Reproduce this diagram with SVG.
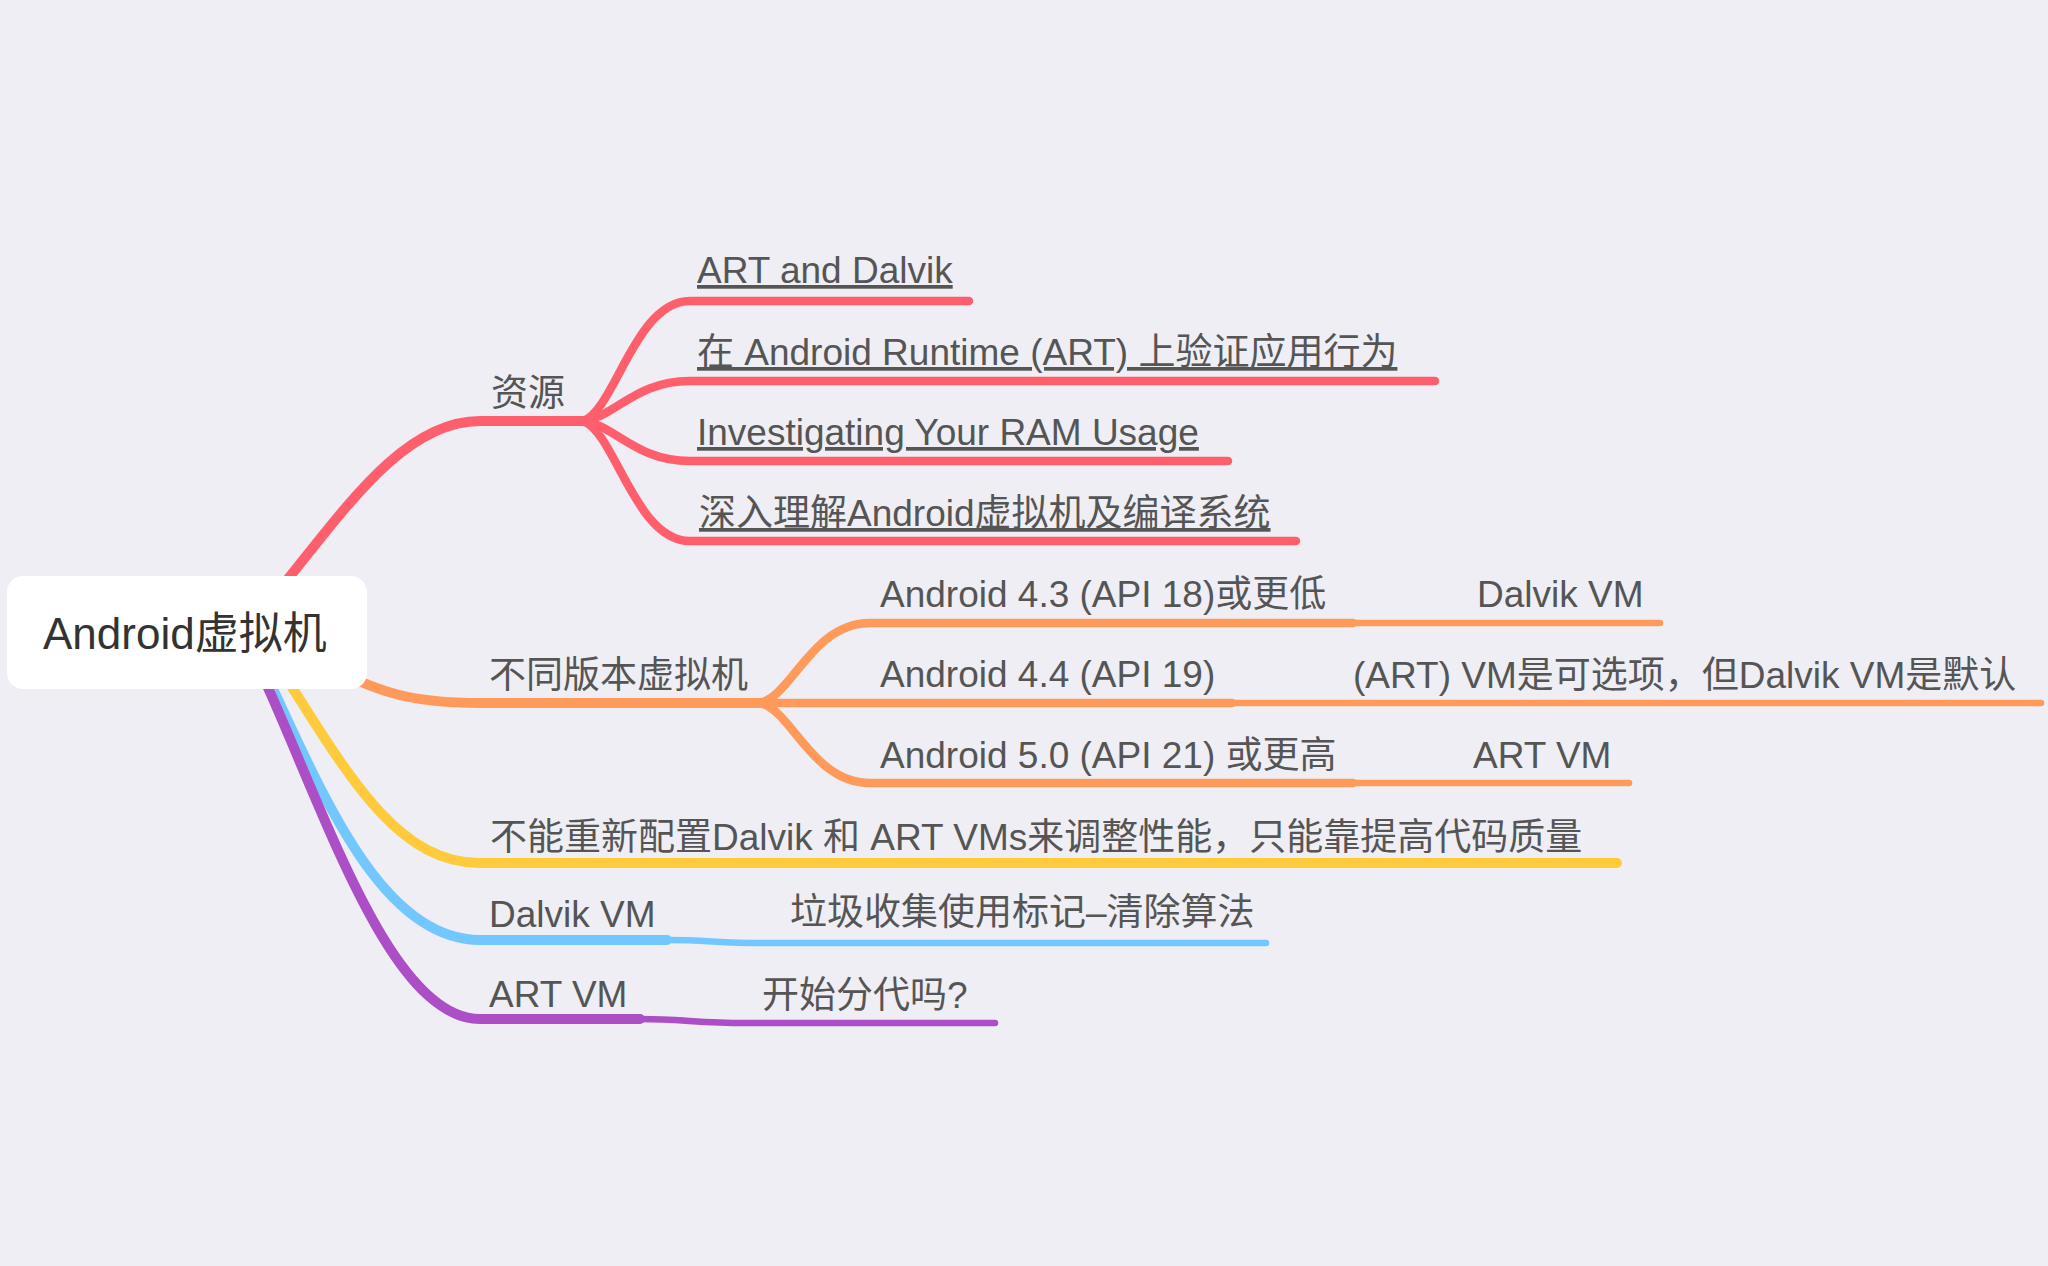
<svg xmlns="http://www.w3.org/2000/svg" width="2048" height="1266" viewBox="0 0 2048 1266">
<style>
.bg{fill:#EEEEF4}
.c{fill:none;stroke-linecap:round;stroke-linejoin:round}
.m{stroke-width:10}
.s{stroke-width:8.5}
.g{stroke-width:6.5}
.red{stroke:#FF5F6D}
.org{stroke:#FF9A5B}
.yel{stroke:#FFCB3D}
.blu{stroke:#73C7FF}
.pur{stroke:#AC4EC6}
.t{font-family:"Liberation Sans","Noto Sans CJK SC",sans-serif;font-size:37px;fill:#555555}
.u{text-decoration:underline}
.root{font-family:"Liberation Sans","Noto Sans CJK SC",sans-serif;font-size:44px;fill:#333333}
</style>
<rect class="bg" x="0" y="0" width="2048" height="1266"/>
<g id="connectors">
  <!-- main branches -->
  <path class="c m red" d="M270 601 C340 517 400 421 480 421 L583 421"/>
  <path class="c m org" d="M330 668 C380 692 410 703 480 703 L760 703"/>
  <path class="c m yel" d="M262 640 C340 760 390 863 480 863 L1617 863"/>
  <path class="c m blu" d="M245 630 C310 760 370 940 480 940 L667 940"/>
  <path class="c m pur" d="M240 630 C310 760 380 1019 480 1019 L640 1019"/>
  <!-- 资源 children -->
  <path class="c s red" d="M583 421 C615 410 635 301 690 301 L969 301"/>
  <path class="c s red" d="M583 421 C615 417 635 381 690 381 L1435 381"/>
  <path class="c s red" d="M583 421 C615 425 635 461 690 461 L1228 461"/>
  <path class="c s red" d="M583 421 C615 432 635 541 690 541 L1296 541"/>
  <!-- 不同版本虚拟机 children -->
  <path class="c s org" d="M760 703 C792 696 812 623 870 623 L1353 623"/>
  <path class="c s org" d="M760 703 L1232 703"/>
  <path class="c s org" d="M760 703 C792 710 812 783 870 783 L1353 783"/>
  <!-- grandchildren -->
  <path class="c g org" d="M1353 623 L1660 623"/>
  <path class="c g org" d="M1232 703 L2041 703"/>
  <path class="c g org" d="M1353 783 L1629 783"/>
  <path class="c g blu" d="M667 940 C705 940 720 943 760 943 L1266 943"/>
  <path class="c g pur" d="M640 1019 C680 1019 700 1023 745 1023 L995 1023"/>
</g>
<g id="root">
  <rect x="7" y="576" width="360" height="113" rx="16" fill="#FFFFFF"/>
  <text class="root" x="43" y="649">Android虚拟机</text>
</g>
<g id="n-ziyuan"><text class="t" x="491" y="406">资源</text></g>
<g id="n-art-dalvik"><text class="t u" x="697" y="283">ART and Dalvik</text></g>
<g id="n-verify"><text class="t u" x="697" y="365">在 Android Runtime (ART) 上验证应用行为</text></g>
<g id="n-ram"><text class="t u" x="697" y="445">Investigating Your RAM Usage</text></g>
<g id="n-deep"><text class="t u" x="699" y="526">深入理解Android虚拟机及编译系统</text></g>
<g id="n-versions"><text class="t" x="489" y="688">不同版本虚拟机</text></g>
<g id="n-43"><text class="t" x="880" y="607">Android 4.3 (API 18)或更低</text></g>
<g id="n-43-vm"><text class="t" x="1477" y="607">Dalvik VM</text></g>
<g id="n-44"><text class="t" x="880" y="687">Android 4.4 (API 19)</text></g>
<g id="n-44-vm"><text class="t" x="1353" y="688">(ART) VM是可选项，但Dalvik VM是默认</text></g>
<g id="n-50"><text class="t" x="880" y="768">Android 5.0 (API 21) 或更高</text></g>
<g id="n-50-vm"><text class="t" x="1473" y="768">ART VM</text></g>
<g id="n-noconfig"><text class="t" x="490" y="850">不能重新配置Dalvik 和 ART VMs来调整性能，只能靠提高代码质量</text></g>
<g id="n-dalvik"><text class="t" x="489" y="927">Dalvik VM</text></g>
<g id="n-dalvik-gc"><text class="t" x="790" y="925">垃圾收集使用标记–清除算法</text></g>
<g id="n-art"><text class="t" x="489" y="1007">ART VM</text></g>
<g id="n-art-gen"><text class="t" x="762" y="1008">开始分代吗?</text></g>
</svg>
